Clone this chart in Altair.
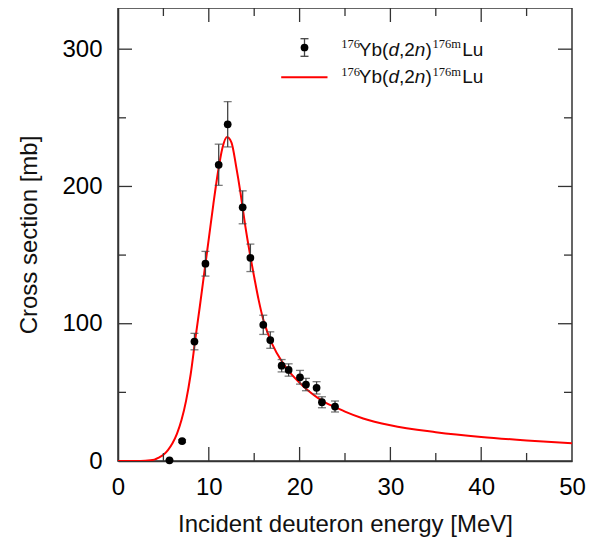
import altair as alt
import pandas as pd

# Experimental data: energy [MeV], cross section [mb], uncertainty [mb]
exp_energy = [5.67, 7.06, 8.42, 9.63, 11.09, 12.08, 13.73, 14.58, 16.0, 16.77,
              18.02, 18.79, 20.04, 20.7, 21.87, 22.46, 23.9]
exp_xs = [0.5, 14.5, 87.0, 143.7, 215.8, 245.3, 184.8, 148.0, 99.2, 88.1,
          69.4, 66.3, 61.0, 55.7, 53.3, 42.8, 39.7]
exp_err = [0.3, 1.0, 6.0, 9.0, 15.0, 16.5, 12.0, 10.0, 7.0, 6.0,
           4.5, 4.5, 5.0, 4.5, 4.5, 4.0, 4.0]

# Calculated excitation function
fit_energy = [0, 2, 3, 4, 4.5, 5, 5.5, 6, 6.5, 7, 7.5, 8, 8.5, 9, 9.5, 10,
              10.5, 11, 11.5, 12, 12.5, 13, 13.5, 14, 14.5, 15, 15.5, 16,
              16.5, 17, 18, 19, 20, 21, 22, 23, 24, 25, 27, 30, 35, 40, 45, 50]
fit_xs = [0, 0, 0.2, 1.0, 2.5, 4.5, 8, 13, 20, 30, 44, 63, 88, 112, 137, 162,
          187, 210, 228, 236, 232, 215, 195, 172, 152, 134, 117, 103,
          93, 85, 73, 64, 57, 51, 46, 42, 39, 36, 31, 26, 21, 17.5, 15, 13]

x_major = [10, 20, 30, 40]
x_minor = [5, 15, 25, 35, 45]
y_major = [100, 200, 300]
y_minor = [50, 150, 250]

label_main = ["Yb(", "d", ",2", "n", ")", "Lu"]
label_sup = ["176", "176m"]

W, H = 454, 453
FONT = "Liberation Sans"

exp_df = pd.DataFrame({"E": exp_energy, "xs": exp_xs, "err": exp_err})
exp_df["lo"] = exp_df["xs"] - exp_df["err"]
exp_df["hi"] = exp_df["xs"] + exp_df["err"]
fit_df = pd.DataFrame({"E": fit_energy, "xs": fit_xs})

xscale = alt.Scale(domain=[0, 50], nice=False, zero=False)
yscale = alt.Scale(domain=[0, 330], nice=False, zero=False)

xaxis = alt.Axis(values=[0, 10, 20, 30, 40, 50], ticks=False, grid=False,
                 labelFont=FONT, labelFontSize=24, labelColor="black",
                 labelPadding=14, labelFlush=False,
                 domainColor="#333", domainWidth=1.5,
                 title="Incident deuteron energy [MeV]", titleFont=FONT,
                 titleFontSize=24, titleFontWeight="normal", titleColor="#111",
                 titleY=51, titleBaseline="top")
yaxis = alt.Axis(values=[0, 100, 200, 300], ticks=False, grid=False,
                 labelFont=FONT, labelFontSize=24, labelColor="black",
                 labelPadding=16, labelFlush=False,
                 domainColor="#333", domainWidth=1.5,
                 title="Cross section [mb]", titleFont=FONT,
                 titleFontSize=24, titleFontWeight="normal", titleColor="#111",
                 titleX=-82, titleY=H / 2, titleAngle=-90,
                 titleBaseline="alphabetic", titleAlign="center")

base_exp = alt.Chart(exp_df)

curve = alt.Chart(fit_df).mark_line(color="#ff0000", strokeWidth=2,
                                    interpolate="monotone", clip=True).encode(
    x=alt.X("E:Q", scale=xscale, axis=xaxis),
    y=alt.Y("xs:Q", scale=yscale, axis=yaxis),
)

bars = base_exp.mark_rule(color="#444", strokeWidth=1.3).encode(
    x="E:Q", y="lo:Q", y2="hi:Q")
cap_lo = base_exp.mark_tick(color="#444", orient="horizontal", size=8,
                            thickness=1.3).encode(x="E:Q", y="lo:Q")
cap_hi = base_exp.mark_tick(color="#444", orient="horizontal", size=8,
                            thickness=1.3).encode(x="E:Q", y="hi:Q")
points = base_exp.mark_circle(size=60, color="black", opacity=1).encode(
    x="E:Q", y="xs:Q")

# inward ticks
tick_color = "#333"
layers = []
for vals, L in ((x_major, 14), (x_minor, 8)):
    d = alt.Chart(pd.DataFrame({"v": vals}))
    layers.append(d.mark_rule(color=tick_color, strokeWidth=1.3).encode(
        x="v:Q", y=alt.value(H), y2=alt.value(H - L)))
    layers.append(d.mark_rule(color=tick_color, strokeWidth=1.3).encode(
        x="v:Q", y=alt.value(0), y2=alt.value(L)))
for vals, L in ((y_major, 14), (y_minor, 8)):
    d = alt.Chart(pd.DataFrame({"v": vals}))
    layers.append(d.mark_rule(color=tick_color, strokeWidth=1.3).encode(
        y="v:Q", x=alt.value(0), x2=alt.value(L)))
    layers.append(d.mark_rule(color=tick_color, strokeWidth=1.3).encode(
        y="v:Q", x=alt.value(W), x2=alt.value(W - L)))

# legend
one = alt.Chart(pd.DataFrame({"a": [0]}))
sx, sy = 186.5, 39.5
leg = [
    one.mark_rule(color="#444", strokeWidth=1.3).encode(
        x=alt.value(sx), y=alt.value(sy - 8.8), y2=alt.value(sy + 8.8)),
    one.mark_rule(color="#444", strokeWidth=1.3).encode(
        x=alt.value(sx - 4), x2=alt.value(sx + 4), y=alt.value(sy - 8.8)),
    one.mark_rule(color="#444", strokeWidth=1.3).encode(
        x=alt.value(sx - 4), x2=alt.value(sx + 4), y=alt.value(sy + 8.8)),
    one.mark_circle(size=60, color="black", opacity=1).encode(
        x=alt.value(sx), y=alt.value(sy)),
    one.mark_rule(color="#ff0000", strokeWidth=2).encode(
        x=alt.value(163.2), x2=alt.value(209.5), y=alt.value(69.3)),
]
main_x = [240.8, 270.4, 281.0, 296.8, 307.4, 344.2]
main_italic = [False, True, False, True, False, False]
sup_x = [223.2, 314.5]
for base_y in (48.0, 75.3):
    for t, px, it in zip(label_main, main_x, main_italic):
        leg.append(one.mark_text(font=FONT, fontSize=19, align="left",
                                 baseline="alphabetic", color="#111",
                                 fontStyle="italic" if it else "normal").encode(
            x=alt.value(px), y=alt.value(base_y), text=alt.value(t)))
    for t, px in zip(label_sup, sup_x):
        leg.append(one.mark_text(font="Liberation Serif", fontSize=12.5,
                                 align="left", baseline="alphabetic",
                                 color="#111").encode(
            x=alt.value(px), y=alt.value(base_y - 7.7), text=alt.value(t)))

chart = alt.layer(curve, *layers, bars, cap_lo, cap_hi, points, *leg).properties(
    width=W, height=H,
    padding={"left": 110, "top": 0, "right": 17, "bottom": 80},
    autosize=alt.AutoSizeParams(type="none"),
).configure_view(stroke="#333", strokeWidth=1.5)

chart.save("out.html", embed_options={"renderer": "svg", "actions": False})
